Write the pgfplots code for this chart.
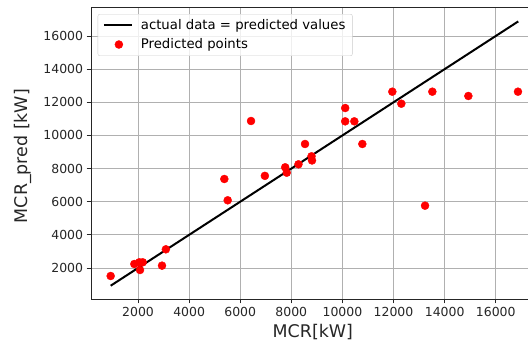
\documentclass[border=0pt]{standalone}
\usepackage{fontspec}
\setmainfont{DejaVu Sans}
\usepackage{pgfplots}
\pgfplotsset{compat=1.18}
\definecolor{gridgray}{HTML}{B0B0B0}
\definecolor{mplred}{HTML}{FF0000}
\begin{document}
\begin{tikzpicture}
\useasboundingbox (0,0) rectangle (528bp,350bp);
\clip (0,0) rectangle (528bp,350bp);
\begin{axis}[
  at={(91bp,51bp)}, anchor=south west,
  scale only axis, width=449bp, height=291.7bp,
  xmin=160, xmax=17732, ymin=129, ymax=17732,
  xtick={2000,4000,...,16000}, ytick={2000,4000,...,16000},
  scaled ticks=false,
  /pgf/number format/1000 sep={},
  /pgf/number format/assume math mode=true,
  tick label style={font=\fontsize{12.5}{14}\selectfont, text=black!85},
  grid=major,
  major grid style={color=gridgray, line width=0.8bp},
  axis line style={black!85, line width=0.9bp},
  tick align=outside, tick pos=left,
  major tick length=4.4bp,
  every tick/.style={black!85, line width=0.9bp},
  xlabel={MCR[kW]}, ylabel={MCR\_pred [kW]},
  label style={font=\fontsize{17.5}{20}\selectfont, text=black!85},
  x label style={at={(axis description cs:0.494,-0.113)}, anchor=center},
  y label style={at={(axis description cs:-0.152,0.49)}, anchor=center},
  legend style={at={(axis description cs:0.0149,0.977)}, anchor=north west,
    draw=black!20, fill=white, fill opacity=0.8, text opacity=1,
    rounded corners=2bp, font=\fontsize{13.3}{15}\selectfont,
    inner xsep=5bp, inner ysep=3.5bp,
    row sep=3.5bp, column sep=6bp},
  legend cell align=left,
]
\addplot[black, line width=2bp,
  legend image code/.code={\draw[black, line width=2bp, draw opacity=1] (0bp,0bp) -- (28bp,0bp);}]
  coordinates {(930,930) (16880,16880)};
\addlegendentry{actual data = predicted values}
\addplot[only marks, mark=*, mark size=4bp, color=mplred, mark options={fill=mplred, draw=mplred},
  legend image code/.code={\path[draw=none,fill=none] (0bp,0bp) -- (28bp,0bp); \fill[mplred, fill opacity=1] (15bp,0bp) circle (4bp);}]
  coordinates {
  (930,1517) (1855,2241) (2051,2344) (2184,2344) (2078,1879)
  (2939,2141) (3090,3128) (5378,7371) (5510,6085) (6423,10871)
  (6965,7560) (7760,8077) (7820,7751) (8280,8258) (8536,9483)
  (8790,8740) (8810,8490) (10108,11654) (10108,10850) (10466,10850)
  (10779,9483) (11953,12639) (12305,11915) (13233,5760) (13519,12639)
  (14928,12380) (16870,12639)
  };
\addlegendentry{Predicted points}
\end{axis}
\end{tikzpicture}
\end{document}
